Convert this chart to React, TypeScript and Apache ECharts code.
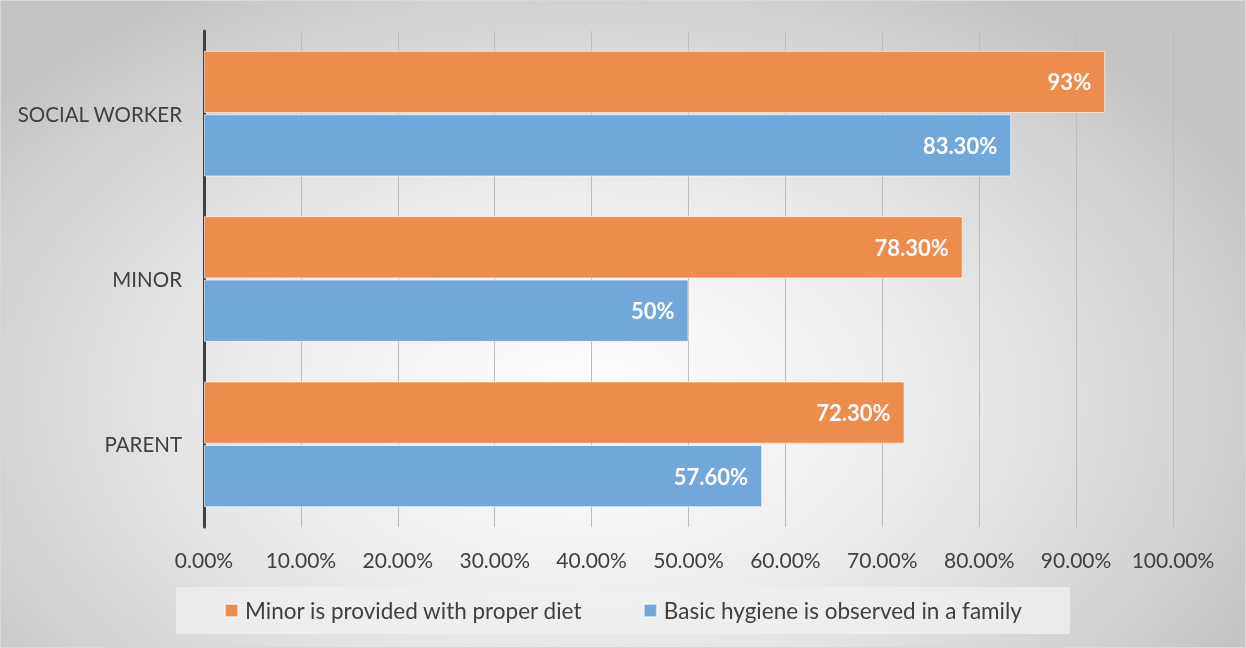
import React, { useEffect, useRef } from "react";
import * as echarts from "echarts";

const categories = ["SOCIAL WORKER", "MINOR", "PARENT"];
const dietName = "Minor is provided with proper diet";
const hygieneName = "Basic hygiene is observed in a family";
const dietValues = [93, 78.3, 72.3];
const hygieneValues = [83.3, 50, 57.6];
const xTicks = { min: 0, max: 100, interval: 10 };

const FONT = "Lato, 'Open Sans', sans-serif";

const fmtValue = (v: number) =>
  Number.isInteger(v) ? `${v}%` : `${v.toFixed(2)}%`;

export default function App() {
  const ref = useRef<HTMLDivElement>(null);
  useEffect(() => {
    if (!ref.current) return;
    const chart = echarts.init(ref.current, undefined, { renderer: "svg" });
    const labelCfg = {
      show: true,
      position: "insideRight",
      distance: 14,
      color: "#ffffff",
      fontWeight: "bold",
      fontSize: 22,
      fontFamily: FONT,
      formatter: (p: any) => fmtValue(p.value),
    };
    chart.setOption({
      animation: false,
      backgroundColor: "transparent",
      textStyle: { fontFamily: FONT },
      grid: { left: 203, right: 72, top: 30, bottom: 120, containLabel: false },
      legend: {
        data: [dietName, hygieneName],
        bottom: 13,
        left: "center",
        icon: "rect",
        itemWidth: 13,
        itemHeight: 13,
        itemGap: 60,
        padding: [12, 48, 12, 48],
        backgroundColor: "rgba(238,238,238,0.85)",
        textStyle: {
          fontSize: 22.5,
          color: "#404040",
          fontFamily: FONT,
          padding: [0, 0, 0, 2],
        },
      },
      xAxis: {
        type: "value",
        min: xTicks.min,
        max: xTicks.max,
        interval: xTicks.interval,
        axisLine: { show: false },
        axisTick: { show: false },
        splitLine: { show: true, lineStyle: { color: "#BDBDBD", width: 1 } },
        axisLabel: {
          margin: 22,
          fontSize: 21,
          color: "#404040",
          fontFamily: FONT,
          formatter: (v: number) => `${v.toFixed(2)}%`,
        },
      },
      yAxis: {
        type: "category",
        data: categories,
        inverse: true,
        axisLine: { show: true, lineStyle: { color: "#404040", width: 3 } },
        axisTick: { show: false },
        axisLabel: { margin: 22, fontSize: 20.5, color: "#404040", fontFamily: FONT },
      },
      series: [
        {
          name: dietName,
          type: "bar",
          data: dietValues,
          barGap: "2%",
          barCategoryGap: "24%",
          itemStyle: {
            color: "#ED8C4D",
            borderColor: "rgba(255,255,255,0.6)",
            borderWidth: 1,
          },
          label: labelCfg,
        },
        {
          name: hygieneName,
          type: "bar",
          data: hygieneValues,
          barGap: "2%",
          barCategoryGap: "24%",
          itemStyle: {
            color: "#70A8DB",
            borderColor: "rgba(255,255,255,0.6)",
            borderWidth: 1,
          },
          label: labelCfg,
        },
      ],
    });
    return () => chart.dispose();
  }, []);
  return (
    <div
      style={{
        position: "fixed",
        left: 0,
        top: 0,
        width: 1246,
        height: 648,
        boxSizing: "border-box",
        border: "1px solid #d8d8d8",
        background:
          "radial-gradient(ellipse 60% 75% at 47% 62%, #ffffff 0%, #ececec 45%, #d4d4d4 80%, #c4c4c4 100%)",
      }}
    >
      <div ref={ref} style={{ width: 1244, height: 646 }} />
    </div>
  );
}
